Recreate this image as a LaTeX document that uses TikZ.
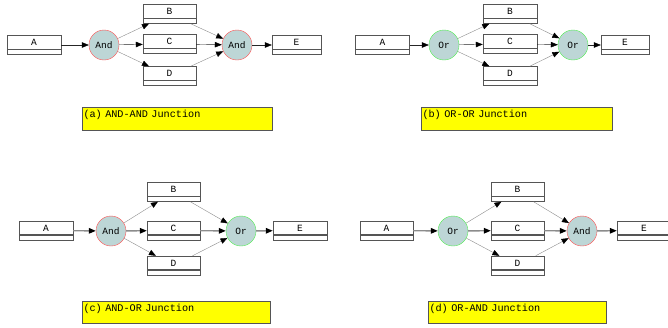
\documentclass[tikz,border=0pt]{standalone}
\usepackage{fontspec}
\setmonofont{Liberation Mono}
\usepackage{tikz}
\usetikzlibrary{positioning}
\usetikzlibrary{arrows.meta}
\usetikzlibrary{graphs}
\definecolor{jFill}{HTML}{BDD6D6}
\definecolor{jRed}{HTML}{FF5050}
\definecolor{jGreen}{HTML}{50EE50}
\definecolor{jYellow}{HTML}{FFFF00}
\definecolor{dGray}{HTML}{555555}
\definecolor{lGray}{HTML}{8C8C8C}
\DeclareRobustCommand\capfont{\ttfamily\fontsize{10.2}{12}\selectfont\spaceskip=0.6em\relax}

\begin{document}
\begin{tikzpicture}[
    x=1pt, y=-1pt,
    >={Triangle[length=7pt,width=5.5pt,color=black]},
    task/.style = {draw=dGray, fill=white, minimum width=54pt, inner xsep=0pt, inner ysep=0pt,
      text height=10pt, text depth=9pt, font=\ttfamily\fontsize{9.5}{11}\selectfont,
      path picture={\draw[line width=1.3pt]
        ([yshift=5pt]path picture bounding box.south west) -- ([yshift=5pt]path picture bounding box.south east);}},
    andj/.style = {circle, draw=jRed, fill=jFill, minimum size=30pt, inner sep=0pt, font=\ttfamily\fontsize{9.5}{11}\selectfont},
    orj/.style = {andj, draw=jGreen},
    note/.style = {draw=dGray, fill=jYellow, inner xsep=1.5pt, inner ysep=0pt, text height=10pt, text depth=13pt,
      align=left, font=\capfont},
    ]

    \useasboundingbox (0,0) rectangle (668,327);

    % (a) and - and
    \node[task] (a-A) at (34,45) {A};
    \node[andj] (a-j1) at (104,45) {And};
    \node[task, minimum width=53pt] (a-B) at (169.5,14) {B};
    \node[task, minimum width=53pt] (a-C) at (169.5,44) {C};
    \node[task, minimum width=53pt] (a-D) at (169.5,76) {D};
    \node[andj] (a-j2) at (237,45) {And};
    \node[task, minimum width=49pt] (a-E) at (296.5,45) {E};
    \node[note, text width=187pt] (a-note) at (177,119) {(a) AND-AND Junction};

    % (b) or - or
    \node[task] (b-A) at (382.5,45) {A};
    \node[orj] (b-j1) at (444,45) {Or};
    \node[task] (b-B) at (510,14) {B};
    \node[task] (b-C) at (510,44) {C};
    \node[task] (b-D) at (510,76) {D};
    \node[orj] (b-j2) at (573,45) {Or};
    \node[task, minimum width=48pt] (b-E) at (625,45) {E};
    \node[note, text width=188pt] (b-note) at (516.5,119) {(b) OR-OR Junction};

    % (c) and - or
    \node[task] (c-A) at (46,230.5) {A};
    \node[andj] (c-j1) at (111,231) {And};
    \node[task, minimum width=53pt] (c-B) at (173.5,192) {B};
    \node[task, minimum width=53pt] (c-C) at (173.5,230.5) {C};
    \node[task, minimum width=53pt] (c-D) at (173.5,265.5) {D};
    \node[orj] (c-j2) at (241,231) {Or};
    \node[task] (c-E) at (300,230.5) {E};
    \node[note, text width=185pt, text depth=12pt] (c-note) at (176,312.5) {(c) AND-OR Junction};

    % (d) or - and
    \node[task, minimum width=53pt] (d-A) at (386.5,230.5) {A};
    \node[orj] (d-j1) at (453,231) {Or};
    \node[task, minimum width=53pt] (d-B) at (517.5,192) {B};
    \node[task, minimum width=53pt] (d-C) at (517.5,230.5) {C};
    \node[task, minimum width=53pt] (d-D) at (517.5,265.5) {D};
    \node[andj] (d-j2) at (582,231) {And};
    \node[task] (d-E) at (644,230.5) {E};
    \node[note, text width=175pt, text depth=12pt] (d-note) at (517,312.5) {(d) OR-AND Junction};

    \graph[edges={color=black!85, thin}] {
      % split
      (a-A) -> (a-j1),
      (a-j1) ->[color=lGray] (a-B),
      (a-j1) -> (a-C),
      (a-j1) ->[color=lGray] (a-D),
      % join
      (a-B) ->[color=lGray] (a-j2),
      (a-C) -> (a-j2),
      (a-D) ->[color=lGray] (a-j2),
      (a-j2) -> (a-E),

      (b-A) -> (b-j1),
      (b-j1) ->[color=lGray] (b-B),
      (b-j1) -> (b-C),
      (b-j1) ->[color=lGray] (b-D),
      (b-B) ->[color=lGray] (b-j2),
      (b-C) -> (b-j2),
      (b-D) ->[color=lGray] (b-j2),
      (b-j2) -> (b-E),
    };

    \graph[edges={color=lGray, thin}] {
      (c-A) ->[line width=1.4pt] (c-j1),
      (c-j1) -> (c-B),
      (c-j1) ->[line width=1.4pt] (c-C),
      (c-j1) -> (c-D),
      (c-B) -> (c-j2),
      (c-C) ->[line width=1.4pt] (c-j2),
      (c-D) -> (c-j2),
      (c-j2) ->[line width=1.4pt] (c-E),

      (d-A) ->[line width=1.4pt] (d-j1),
      (d-j1) -> (d-B),
      (d-j1) ->[line width=1.4pt] (d-C),
      (d-j1) -> (d-D),
      (d-B) -> (d-j2),
      (d-C) ->[line width=1.4pt] (d-j2),
      (d-D) -> (d-j2),
      (d-j2) ->[line width=1.4pt] (d-E),
    };

  \end{tikzpicture}
\end{document}
